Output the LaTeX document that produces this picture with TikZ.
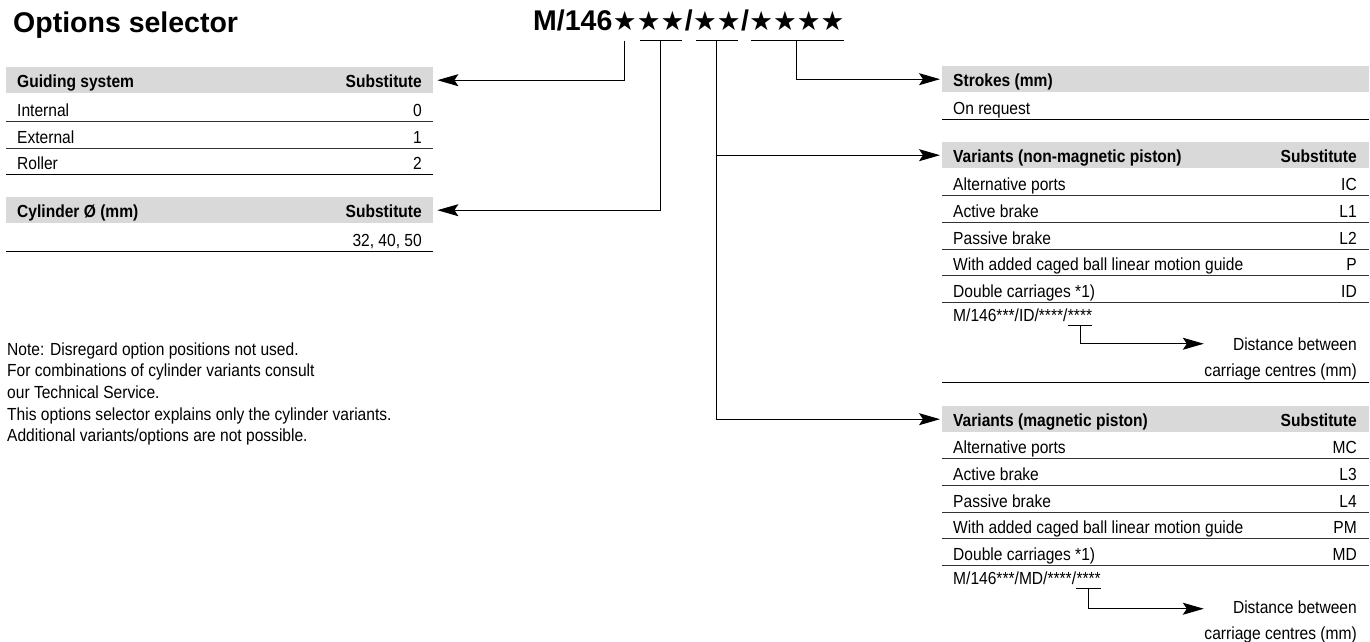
\documentclass[tikz,border=0pt]{standalone}
\usepackage{fontspec}
\setmainfont{Liberation Sans}
\newfontfamily\bodyfont[FakeStretch=0.89]{Liberation Sans}
\newfontfamily\starfont{DejaVu Sans}
\usetikzlibrary{arrows.meta,calc}
\definecolor{hdrgray}{RGB}{217,217,217}
\tikzset{
  txt/.style={inner sep=0pt, font=\bodyfont\fontsize{17.5}{20}\selectfont},
  btxt/.style={inner sep=0pt, font=\bodyfont\bfseries\fontsize{17.5}{20}\selectfont},
  bigtxt/.style={inner sep=0pt, font=\bfseries\fontsize{28.5}{32}\selectfont},
  startxt/.style={inner sep=0pt, font=\starfont\fontsize{26.5}{32}\selectfont},
  hdrbox/.style={fill=hdrgray, draw=none, inner sep=0pt, minimum width=427pt, minimum height=26pt, anchor=north west},
  arr/.style={line width=1pt, -{Stealth[length=21pt,width=12pt,inset=4pt]}},
  cline/.style={line width=1pt},
  rowrule/.style={line width=0.9pt, draw=black!80},
  endrule/.style={line width=1pt, draw=black},
}
\begin{document}
\begin{tikzpicture}[x=1pt,y=-1pt]
\useasboundingbox (0,0) rectangle (1370,642);

% title
\node[bigtxt, anchor=base west] (title) at (13,33) {Options selector};

% order code
\node[bigtxt, anchor=base west] (hM) at (533,31) {M/146};
\node[startxt, anchor=base west] (hs1) at (hM.base east) {★};
\node[startxt, anchor=base west] (hs2) at (hs1.base east) {★★};
\node[bigtxt, anchor=base west] (hsl1) at (hs2.base east) {/};
\node[startxt, anchor=base west] (hs3) at (hsl1.base east) {★★};
\node[bigtxt, anchor=base west] (hsl2) at (hs3.base east) {/};
\node[startxt, anchor=base west] (hs4) at (hsl2.base east) {★★★★};

\coordinate (u1) at ($(hs1.base)+(0,9.7)$);
\coordinate (u2) at ($(hs2.base)+(0,9.7)$);
\coordinate (u3) at ($(hs3.base)+(0,9.7)$);
\coordinate (u4) at ($(hs4.base)+(0,9.7)$);
\draw[cline] ($(hs2.base west)+(3,9.7)$) -- ($(hs2.base east)+(-3,9.7)$);
\draw[cline] ($(hs3.base west)+(3,9.7)$) -- ($(hs3.base east)+(-3,9.7)$);
\draw[cline] ($(hs4.base west)+(2,9.7)$) -- ($(hs4.base east)+(-1,9.7)$);

% ---------- Guiding system ----------
\node[hdrbox] (gh) at (6,67) {};
\node[btxt, anchor=base west] (ghl) at (17,87) {Guiding system};
\node[btxt, anchor=base east] (ghr) at (422,87) {Substitute};
\foreach \t/\v/\yb [count=\i] in {Internal/0/121, External/1/148, Roller/2/174} {
  \node[txt, anchor=base west] (gl\i) at (17,\yb-5) {\t};
  \node[txt, anchor=base east] (gr\i) at (422,\yb-5) {\v};
}
\draw[rowrule] (6,121) -- (433,121);
\draw[rowrule] (6,148) -- (433,148);
\draw[endrule] (6,174) -- (433,174);

% ---------- Cylinder ----------
\node[hdrbox] (ch) at (6,197) {};
\node[btxt, anchor=base west] (chl) at (17,217) {Cylinder Ø (mm)};
\node[btxt, anchor=base east] (chr) at (422,217) {Substitute};
\node[txt, anchor=base east] (cr1) at (422,246) {32, 40, 50};
\draw[endrule] (6,251) -- (433,251);

% ---------- Notes ----------
\node[txt, anchor=base west] (n1) at (7,355) {Note: Disregard option positions not used.};
\node[txt, anchor=base west] (n2) at (7,376.7) {For combinations of cylinder variants consult};
\node[txt, anchor=base west] (n3) at (7,398.4) {our Technical Service.};
\node[txt, anchor=base west] (n4) at (7,420) {This options selector explains only the cylinder variants.};
\node[txt, anchor=base west] (n5) at (7,441.8) {Additional variants/options are not possible.};

% ---------- Strokes ----------
\node[hdrbox] (sh) at (942,66) {};
\node[btxt, anchor=base west] (shl) at (953,86) {Strokes (mm)};
\node[txt, anchor=base west] (sr1) at (953,114) {On request};
\draw[endrule] (942,119) -- (1369,119);

% ---------- Variants non-magnetic ----------
\node[hdrbox] (vh) at (942,142) {};
\node[btxt, anchor=base west] (vhl) at (953,162) {Variants (non-magnetic piston)};
\node[btxt, anchor=base east] (vhr) at (1357,162) {Substitute};
\foreach \t/\v/\yb [count=\i] in {Alternative ports/IC/195, Active brake/L1/222, Passive brake/L2/249, With added caged ball linear motion guide/P/275.5, Double carriages *1)/ID/302} {
  \node[txt, anchor=base west] (vl\i) at (953,\yb-5) {\t};
  \node[txt, anchor=base east] (vr\i) at (1357,\yb-5) {\v};
  \draw[rowrule] (942,\yb) -- (1369,\yb);
}
\node[txt, anchor=base west] (idc) at (953,321.5) {M/146***/ID/****/};
\node[txt, anchor=base west] (idl) at (idc.base east) {****};
\draw[cline] ($(idl.base west)+(0,3.5)$) -- ($(idl.base east)+(0,3.5)$);
\coordinate (idu) at ($(idl.base)+(0,3.5)$);
\node[txt, anchor=base east] (d1a) at (1357,350) {Distance between};
\node[txt, anchor=base east] (d1b) at (1357,376) {carriage centres (mm)};
\draw[arr] (idu) |- ($(d1a.west)+(-29,0)$);
\draw[endrule] (942,382) -- (1369,382);

% ---------- Variants magnetic ----------
\node[hdrbox] (mh) at (942,406) {};
\node[btxt, anchor=base west] (mhl) at (953,426) {Variants (magnetic piston)};
\node[btxt, anchor=base east] (mhr) at (1357,426) {Substitute};
\foreach \t/\v/\yb [count=\i] in {Alternative ports/MC/458, Active brake/L3/485, Passive brake/L4/512, With added caged ball linear motion guide/PM/538.5, Double carriages *1)/MD/565} {
  \node[txt, anchor=base west] (ml\i) at (953,\yb-5) {\t};
  \node[txt, anchor=base east] (mr\i) at (1357,\yb-5) {\v};
  \draw[rowrule] (942,\yb) -- (1369,\yb);
}
\node[txt, anchor=base west] (mdc) at (953,584.5) {M/146***/MD/****/};
\node[txt, anchor=base west] (mdl) at (mdc.base east) {****};
\draw[cline] ($(mdl.base west)+(0,3.5)$) -- ($(mdl.base east)+(0,3.5)$);
\coordinate (mdu) at ($(mdl.base)+(0,3.5)$);
\node[txt, anchor=base east] (d2a) at (1357,613) {Distance between};
\node[txt, anchor=base east] (d2b) at (1357,639) {carriage centres (mm)};
\draw[arr] (mdu) |- ($(d2a.west)+(-29,2)$);

% ---------- connectors from the order code ----------
\draw[arr, shorten >=4pt] (u1) |- (gh.east);
\draw[arr, shorten >=4pt] (u2) |- (ch.east);
\draw[arr, shorten >=2pt] (u4) |- (sh.west);
\draw[arr, shorten >=2pt] (u3) |- (vh.west);
\draw[arr, shorten >=2pt] (u3) |- (mh.west);
\end{tikzpicture}
\end{document}
